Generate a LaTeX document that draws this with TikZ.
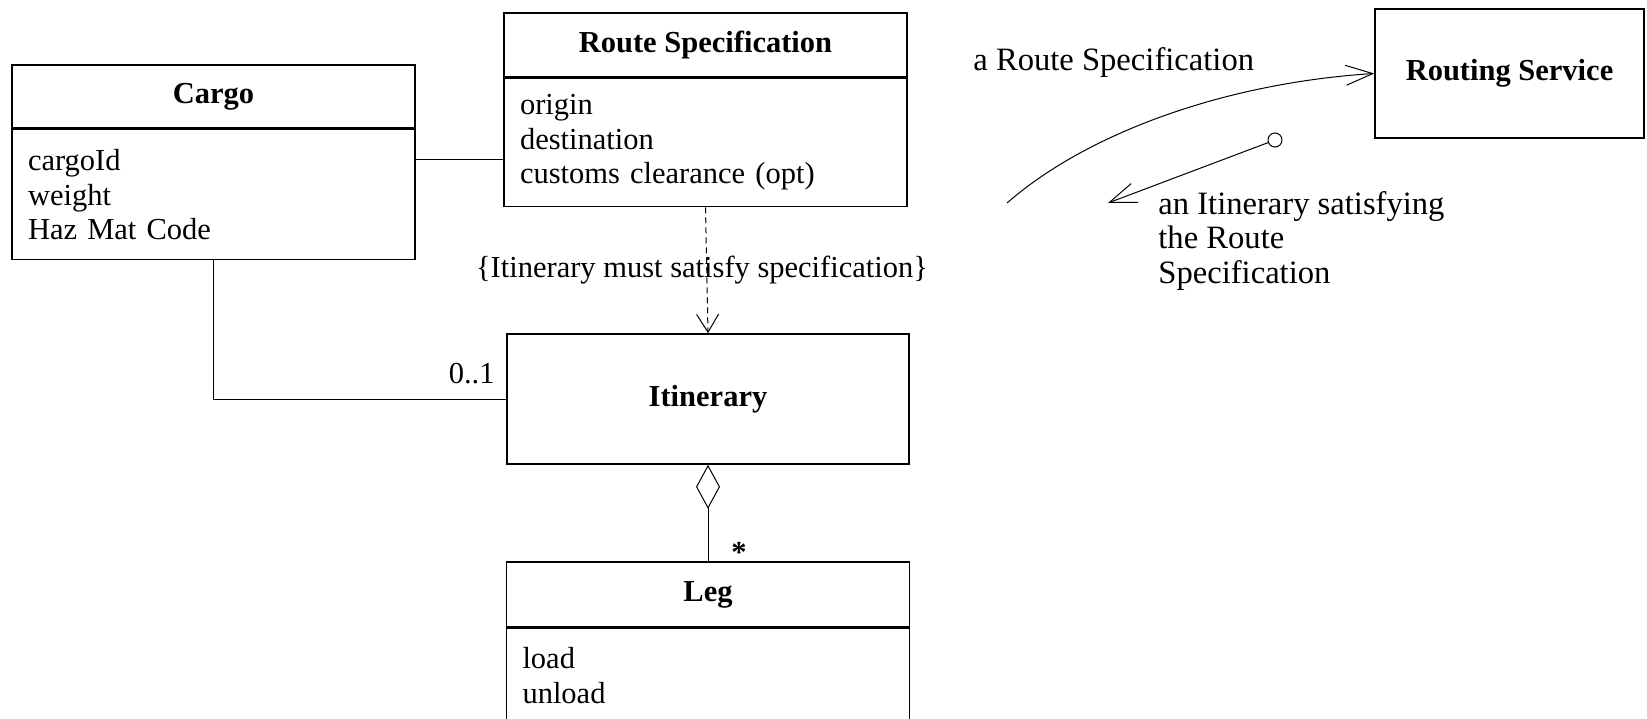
\documentclass[tikz,border=0pt]{standalone}
\usepackage{fontspec}
\setmainfont{Liberation Serif}
\usetikzlibrary{arrows.meta}
\newcommand{\umlsize}{\fontsize{15.25}{17.25}\selectfont}
\newcommand{\notesize}{\fontsize{16.3}{17.25}\selectfont}
\tikzset{
  classname/.style={draw, line width=0.8pt, minimum width=201.5pt, minimum height=#1, inner sep=0pt, font=\umlsize\bfseries},
  classname/.default=32pt,
  classattr/.style={draw, line width=0.8pt, text width=185.5pt, inner xsep=8pt, inner ysep=0pt, minimum height=#1, align=left, font=\umlsize},
  link/.style={line width=0.5pt},
  openhead/.style={-{Straight Barb[length=13.5pt,width=10pt]}},
}
\begin{document}
\begin{tikzpicture}[x=0.5pt, y=-0.5pt]
\useasboundingbox (0,0) rectangle (1647,718);
\clip (0,0) rectangle (1647,718);
% classes
\node (cargo) [classname=31.5pt] at (213.5,96.5) {Cargo};
\node (cargoattr) [classattr=65pt, anchor=north] at (cargo.south) {cargoId\\weight\\Haz Mat Code};
\node (route) [classname] at (705.5,45) {Route Specification};
\node (routeattr) [classattr=64pt, anchor=north] at (route.south) {origin\\destination\\customs clearance (opt)};
\node (itin) [classname=65pt, minimum width=201pt] at (708,399) {Itinerary};
\node (leg) [classname=32.5pt] at (708,594.5) {Leg};
\node (legattr) [classattr=47pt, anchor=north] at (leg.south) {load\\unload};
\node (routing) [classname=64.5pt, minimum width=134.5pt] at (1509.5,73.5) {Routing Service};
%
\draw[link] (cargoattr.north east) ++(0,31) coordinate (cr) -- (cr -| routeattr.west);
\draw[link] (cargoattr.south) |- (itin.west);
\node (multzero) [anchor=base east, font=\umlsize, inner sep=0pt] at (495,383) {0..1};
\draw[link, densely dashed, -{Straight Barb[length=9pt,width=11pt]}] (routeattr.south) -- (itin.north);
\node (constraint) [font=\umlsize] at (702,270) {\{Itinerary must satisfy specification\}};
\draw[link, {Diamond[open,length=22pt,width=12pt]}-] (itin.south) -- (leg.north);
\node (multmany) [anchor=base, font=\umlsize\bfseries] at (739,562) {*};
%
\coordinate (rsfree) at (1007,203);
\draw[link, openhead] (rsfree) .. controls (1087,133) and (1225,83) .. (routing.west);
\node (rslabel) [anchor=base west, font=\notesize, inner sep=0pt] at (973,70) {a Route Specification};
\node (retdot) [circle, draw, link, minimum size=7pt, inner sep=0pt] at (1275,140) {};
\coordinate (rettip) at (1108,203);
\draw[link, openhead] (retdot) -- (rettip);
\node (retlabel) [anchor=north west, align=left, font=\notesize, inner sep=0pt] at (1158,191) {an Itinerary satisfying\\the Route\\Specification};
\end{tikzpicture}
\end{document}
